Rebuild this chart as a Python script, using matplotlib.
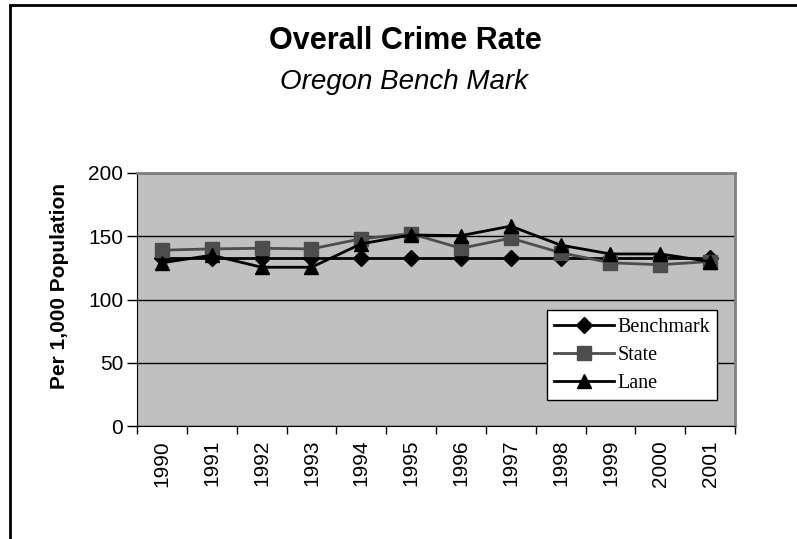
import matplotlib
matplotlib.use('Agg')
import matplotlib.pyplot as plt
from matplotlib.patches import Rectangle

years = ['1990', '1991', '1992', '1993', '1994', '1995', '1996', '1997', '1998', '1999', '2000', '2001']
benchmark = [133, 133, 133, 133, 133, 133, 133, 133, 133, 133, 133, 133]
state = [139, 140, 140.5, 140, 148, 152, 140.5, 148.5, 137, 129, 127.5, 130]
lane = [129, 135, 125.5, 125.5, 144, 151, 150.5, 158, 143, 136, 136, 130]

W, H = 797, 539
fig = plt.figure(figsize=(W / 100, H / 100), dpi=100)
fig.patch.set_facecolor('white')

# outer frame (only left/top visible in the reference)
fig.add_artist(Rectangle((10 / W, -0.1), 1.2, 1 - 5 / H + 0.1, transform=fig.transFigure,
                         fill=False, edgecolor='black', linewidth=2))

left, right, top, bottom = 137, 735, 173, 426
ax = fig.add_axes([left / W, 1 - bottom / H, (right - left) / W, (bottom - top) / H])
ax.set_facecolor('#c0c0c0')

x = list(range(len(years)))
ax.plot(x, benchmark, color='black', lw=2, marker='D', ms=8, label='Benchmark', zorder=3)
ax.plot(x, state, color='#4d4d4d', lw=2, marker='s', ms=10, label='State', zorder=4)
ax.plot(x, lane, color='black', lw=2, marker='^', ms=10, label='Lane', zorder=5)

ax.set_xlim(-0.5, len(years) - 0.5)
ax.set_ylim(0, 200)
ax.set_yticks([0, 50, 100, 150, 200])
ax.yaxis.grid(True, color='black', lw=1)
ax.set_axisbelow(True)

ax.set_xticks([i - 0.5 for i in range(len(years) + 1)])
ax.set_xticklabels([])
ax.set_xticks(x, minor=True)
ax.set_xticklabels(years, minor=True, rotation=90, fontsize=15, family='Liberation Sans')
ax.tick_params(axis='x', which='major', length=6, width=1, direction='out')
ax.tick_params(axis='x', which='minor', length=0, pad=10)
ax.tick_params(axis='y', length=7, width=1, direction='out', labelsize=15, pad=3)
for lbl in ax.get_yticklabels():
    lbl.set_family('Liberation Sans')

for s in ['top', 'right']:
    ax.spines[s].set_color('#808080')
    ax.spines[s].set_linewidth(2)
ax.spines['left'].set_color('black')
ax.spines['bottom'].set_color('black')

fig.text(60 / W, 1 - 286 / H, 'Per 1,000 Population', rotation=90, ha='center', va='center',
         fontsize=15, fontweight='bold', family='Liberation Sans')

leg = ax.legend(loc='lower right', bbox_to_anchor=((717 - left) / (right - left), (bottom - 400) / (bottom - top)),
                prop={'family': 'Liberation Serif', 'size': 14.5}, handlelength=3.0, handletextpad=0.15,
                fancybox=False, framealpha=1, edgecolor='black', borderpad=0.35, labelspacing=0.45,
                borderaxespad=0)
leg.get_frame().set_linewidth(1)

fig.text(405 / W, 1 - 41 / H, 'Overall Crime Rate', ha='center', va='center',
         fontsize=22, fontweight='bold', family='Liberation Sans')
fig.text(404 / W, 1 - 82 / H, 'Oregon Bench Mark', ha='center', va='center',
         fontsize=20, style='italic', family='Liberation Sans')

fig.savefig('out.png', dpi=100)
